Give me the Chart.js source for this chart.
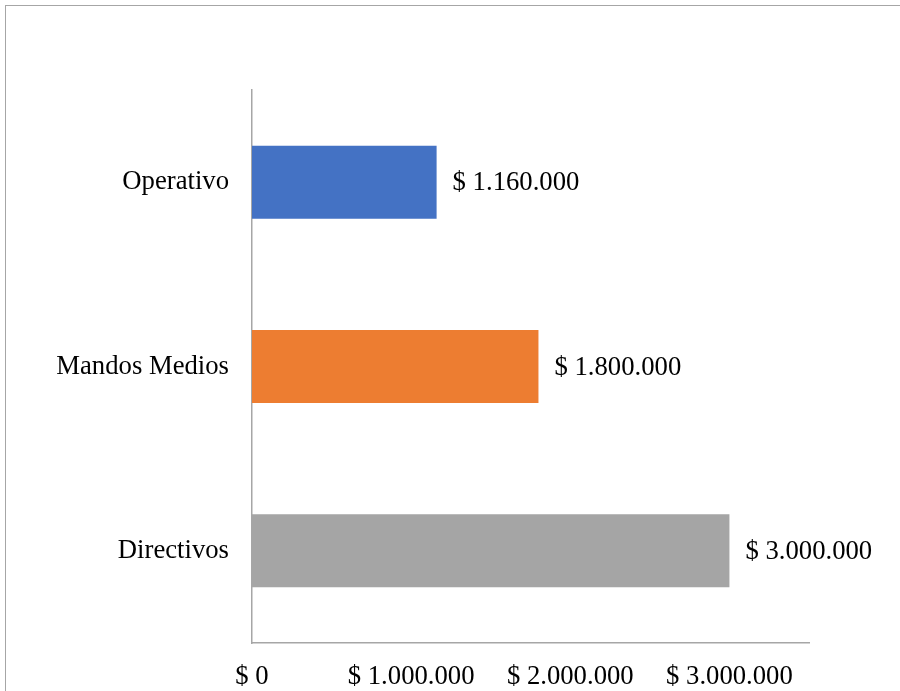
<!DOCTYPE html>
<html>
<head>
<meta charset="utf-8">
<script src="https://cdn.jsdelivr.net/npm/chart.js@4"></script>
<style>
html,body{margin:0;padding:0;background:#fff;}
#wrap{position:relative;width:900px;height:691px;}
</style>
</head>
<body>
<div id="wrap"><canvas id="c" width="900" height="691"></canvas></div>
<script>
const categories = ['Operativo', 'Mandos Medios', 'Directivos'];
const values = [1160000, 1800000, 3000000];
const barColors = ['#4472C4', '#ED7D31', '#A5A5A5'];
const tickValues = [0, 1000000, 2000000, 3000000];
const axisMax = 3500000;

function fmt(v){
  const s = Math.round(v).toString().replace(/\B(?=(\d{3})+(?!\d))/g, '.');
  return '$ ' + s;
}

const FONT = '"Liberation Serif", "Times New Roman", serif';
const FSIZE = 26.7;

const frame = {
  id: 'frame',
  afterDraw(chart){
    const ctx = chart.ctx;
    ctx.save();
    ctx.strokeStyle = '#A6A6A6';
    ctx.lineWidth = 1;
    ctx.strokeRect(5.5, 5.5, 1000, 1000);
    ctx.restore();
  }
};

const labelsPlugin = {
  id: 'valLabels',
  afterDatasetsDraw(chart){
    const ctx = chart.ctx;
    const meta = chart.getDatasetMeta(0);
    ctx.save();
    ctx.font = FSIZE + 'px ' + FONT;
    ctx.fillStyle = '#000';
    ctx.textAlign = 'left';
    ctx.textBaseline = 'middle';
    meta.data.forEach((bar, i) => {
      ctx.fillText(fmt(values[i]), bar.x + 16, bar.y + 1);
    });
    ctx.restore();
  }
};

new Chart(document.getElementById('c'), {
  type: 'bar',
  data: {
    labels: categories,
    datasets: [{
      data: values,
      backgroundColor: barColors,
      borderWidth: 0,
      barPercentage: 0.396,
      categoryPercentage: 1
    }]
  },
  options: {
    indexAxis: 'y',
    responsive: false,
    animation: false,
    devicePixelRatio: 1,
    layout: { padding: { left: 0, right: 91, top: 90, bottom: 0 } },
    plugins: { legend: { display: false }, tooltip: { enabled: false } },
    scales: {
      x: {
        min: 0,
        max: axisMax,
        grid: { display: false, drawTicks: false },
        border: { display: true, color: '#A6A6A6', width: 1.5 },
        afterBuildTicks(scale){
          scale.ticks = tickValues.map(v => ({ value: v }));
        },
        afterFit(scale){ scale.height = 48; },
        ticks: {
          padding: 18,
          maxRotation: 0,
          autoSkip: false,
          color: '#000',
          font: { family: FONT, size: FSIZE },
          callback: v => fmt(v)
        }
      },
      y: {
        grid: { display: false, drawTicks: false },
        border: { display: true, color: '#A6A6A6', width: 1.5 },
        afterFit(scale){ scale.width = 252; },
        ticks: {
          padding: 23,
          color: '#000',
          font: { family: FONT, size: FSIZE }
        }
      }
    }
  },
  plugins: [frame, labelsPlugin]
});
</script>
</body>
</html>
